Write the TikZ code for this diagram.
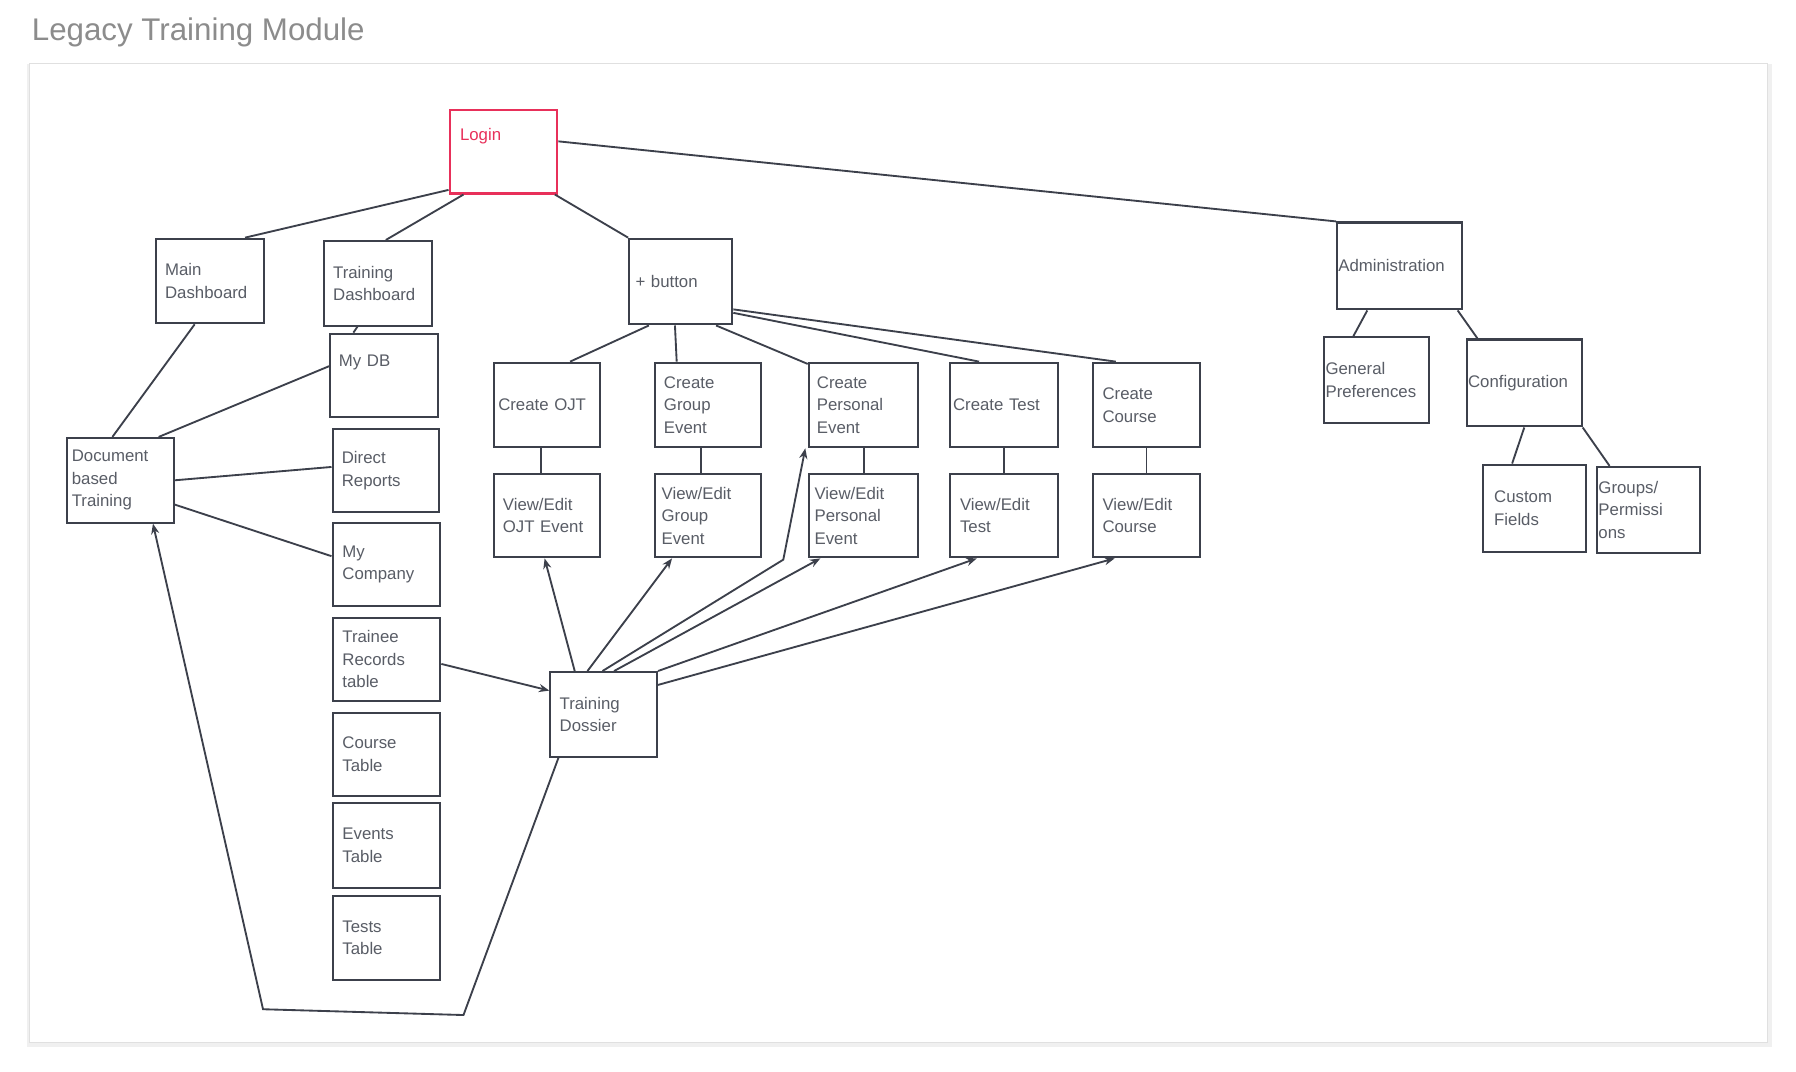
\documentclass[tikz,border=0pt]{standalone}
\usepackage{fontspec}
\setmainfont{Liberation Sans}
\usetikzlibrary{arrows.meta}
\definecolor{ink}{HTML}{3C404B}
\definecolor{loginred}{HTML}{E8305A}
\tikzset{
  box/.style={draw=ink, line width=1.8pt, fill=white, inner sep=3pt,
    font=\fontsize{14.5}{19.5}\selectfont, text=ink!85, align=left},
  link/.style={draw=ink, line width=1.6pt},
  arr/.style={link, -{Stealth[length=9pt,width=7pt]}}
}
\begin{document}
\begin{tikzpicture}[x=1pt,y=-1pt]
  \useasboundingbox[fill=white] (0,0) rectangle (1550,925);
  % frame
  \fill[black!6] (23,55) rectangle (1529,904);
  \draw[black!12, fill=white, line width=0.8pt] (25,55) rectangle (1525,900);
  \node[anchor=west, text=black!45, font=\fontsize{27}{30}\selectfont] (title) at (24,28) {Legacy Training Module};

  % top level
  \node[box, draw=loginred, text=loginred, minimum width=93, minimum height=72, text width=75, text depth=30pt] (login) at (434.5,131) {Login};
  \node[box, minimum width=93, minimum height=73, text width=78] (main) at (181.5,242.5) {Main\\Dashboard};
  \node[box, minimum width=93, minimum height=73, text width=78] (tdash) at (326.5,244.5) {Training\\Dashboard};
  \node[box, minimum width=89, minimum height=74, text width=78] (button) at (587.5,243) {+ button};
  \node[box, minimum width=108, minimum height=75, text width=106, inner sep=1pt] (admin) at (1208,229.5) {Administration};

  % administration
  \node[box, minimum width=88, minimum height=74, text width=88, inner sep=1pt] (gen) at (1188,328) {General\\Preferences};
  \node[box, minimum width=97, minimum height=75, text width=97, inner sep=1pt] (conf) at (1315.5,330.5) {Configuration};
  \node[box, minimum width=89, minimum height=75, text width=70] (custom) at (1324.5,438.5) {Custom\\Fields};
  \node[box, minimum width=89, minimum height=74, text width=86, inner sep=1pt] (groups) at (1422.5,440) {Groups/\\Permissi\\ons};

  % training dashboard column
  \node[box, minimum width=93, minimum height=72, text width=78, text depth=25pt] (mydb) at (331.5,324) {My DB};
  \node[box, minimum width=92, minimum height=72, text width=76] (direct) at (333,406) {Direct\\Reports};
  \node[box, minimum width=93, minimum height=72, text width=76] (mycomp) at (333.5,487) {My\\Company};
  \node[box, minimum width=93, minimum height=72, text width=76] (trainee) at (333.5,569) {Trainee\\Records\\table};
  \node[box, minimum width=93, minimum height=72, text width=76] (course) at (333.5,651) {Course\\Table};
  \node[box, minimum width=93, minimum height=73, text width=76] (events) at (333.5,729.5) {Events\\Table};
  \node[box, minimum width=93, minimum height=73, text width=76] (tests) at (333.5,809.5) {Tests\\Table};
  \node[box, minimum width=92, minimum height=73, text width=84, inner sep=1pt] (doc) at (104,414.5) {Document\\based\\Training};

  % create row
  \node[box, minimum width=92, minimum height=73, text width=84, inner sep=1pt] (cojt) at (472,349.5) {Create OJT};
  \node[box, minimum width=92, minimum height=73, text width=76] (cgrp) at (611,349.5) {Create\\Group\\Event};
  \node[box, minimum width=94, minimum height=73, text width=80] (cper) at (745,349.5) {Create\\Personal\\Event};
  \node[box, minimum width=93, minimum height=73, text width=88, inner sep=1pt] (ctest) at (866.5,349.5) {Create Test};
  \node[box, minimum width=93, minimum height=73, text width=76] (ccrs) at (989.5,349.5) {Create\\Course};

  % view/edit row
  \node[box, minimum width=92, minimum height=72, text width=76] (vojt) at (472,445) {View/Edit\\OJT Event};
  \node[box, minimum width=92, minimum height=72, text width=80] (vgrp) at (611,445) {View/Edit\\Group\\Event};
  \node[box, minimum width=94, minimum height=72, text width=84] (vper) at (745,445) {View/Edit\\Personal\\Event};
  \node[box, minimum width=93, minimum height=72, text width=76] (vtest) at (866.5,445) {View/Edit\\Test};
  \node[box, minimum width=93, minimum height=72, text width=76] (vcrs) at (989.5,445) {View/Edit\\Course};

  \node[box, minimum width=92, minimum height=73, text width=76] (dossier) at (521,616.5) {Training\\Dossier};

  % links
  \draw[link] ([yshift=4]login.south west) -- ([xshift=30]main.north);
  \draw[link] ([xshift=-34.5]login.south) -- ([xshift=6.5]tdash.north);
  \draw[link] ([xshift=-3]login.south east) -- (button.north west);
  \draw[link] ([yshift=9]login.east) -- (admin.north west);
  \draw[link] ([xshift=-13.5]main.south) -- ([xshift=-7]doc.north);
  \draw[link] ([yshift=8]mydb.west) -- ([xshift=-14]doc.north east);
  \draw[link] ([xshift=-18]tdash.south) -- ([xshift=-26.5]mydb.north);
  \draw[link] (doc.east) -- ([yshift=3]direct.west);
  \draw[link] ([yshift=-21]doc.east) -- ([yshift=7]mycomp.west);

  \draw[link] ([xshift=-27.5]button.south) -- ([xshift=20]cojt.north);
  \draw[link] ([xshift=-5]button.south) -- ([xshift=-27]cgrp.north);
  \draw[link] ([xshift=30.5]button.south) -- ([yshift=-2]cper.north west);
  \draw[link] ([yshift=-27]button.east) -- ([xshift=-21.5]ctest.north);
  \draw[link] ([yshift=-24]button.east) -- ([xshift=-26.5]ccrs.north);

  \draw[link] ([xshift=-5]cojt.south) -- ([xshift=-5]vojt.north);
  \draw[link] ([xshift=-6]cgrp.south) -- ([xshift=-6]vgrp.north);
  \draw[link] ([xshift=1]cper.south) -- ([xshift=1]vper.north);
  \draw[link] (ctest.south) -- (vtest.north);
  \draw[link] (ccrs.south) -- (vcrs.north);

  \draw[link] ([xshift=-28]admin.south) -- ([xshift=-20]gen.north);
  \draw[link] ([xshift=50]admin.south) -- ([xshift=10]conf.north west);
  \draw[link] (conf.south) -- ([xshift=-19.5]custom.north);
  \draw[link] (conf.south east) -- ([xshift=12]groups.north west);

  % dossier arrows
  \coordinate (bendA) at (676,483);
  \coordinate (bendB) at (400,876);
  \coordinate (bendC) at (227,871);
  \draw[arr] ([yshift=-4]trainee.east) -- ([yshift=20.5]dossier.west);
  \draw[arr] ([xshift=-25]dossier.north) -- ([xshift=-2]vojt.south);
  \draw[arr] ([xshift=-14]dossier.north) -- ([xshift=-31]vgrp.south);
  \draw[arr] ([xshift=-1]dossier.north) -- (bendA) -- ([xshift=-50]cper.south);
  \draw[arr] ([xshift=9]dossier.north) -- ([xshift=-37]vper.south);
  \draw[arr] (dossier.north east) -- ([xshift=-23.5]vtest.south);
  \draw[arr] ([yshift=-12]dossier.north east) -- ([xshift=-27.5]vcrs.south);
  \draw[arr] ([xshift=-39]dossier.south) -- (bendB) -- (bendC) -- ([xshift=28]doc.south);
\end{tikzpicture}
\end{document}
